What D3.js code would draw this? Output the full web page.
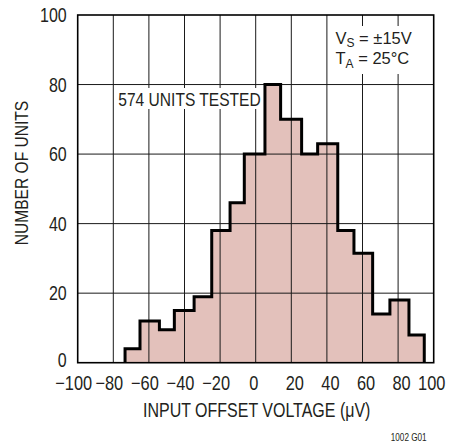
<!DOCTYPE html>
<html>
<head>
<meta charset="utf-8">
<script src="https://cdn.jsdelivr.net/npm/d3@7"></script>
<style>
  html, body { margin: 0; padding: 0; background: #fff; }
  svg { display: block; }
  text { font-family: 'Liberation Sans', Arial, sans-serif; fill: #231f20; }
</style>
</head>
<body>
<script>
// ---- data ----
const binEdges = [-73.4, -65, -54.1, -45.7, -34.6, -24.7, -14.4, -6.4, 5.2, 14, 25.8, 34.8, 46.1, 55.2, 65.7, 75.4, 86.1, 94.7];
const counts   = [4, 12, 9.5, 15, 19, 38, 46, 60, 80, 70, 60, 63, 38, 31.5, 14, 18, 8];
const xTicks = [-100, -80, -60, -40, -20, 0, 20, 40, 60, 80, 100];
const yTicks = [0, 20, 40, 60, 80, 100];
const xTitle = "INPUT OFFSET VOLTAGE (\u03BCV)";
const yTitle = "NUMBER OF UNITS";
const noteText = "574 UNITS TESTED";
const figId = "1002 G01";

const W = 449, H = 444;
const NARROW = 0.82;
const svg = d3.select("body").append("svg").attr("width", W).attr("height", H);

const x = d3.scaleLinear().domain([-100, 100]).range([77.7, 433.7]);
const y = d3.scaleLinear().domain([0, 100]).range([362.7, 15]);

// condensed text helper
function ntext(parent, px, py, size, anchor, rot, sx) {
  const s = sx === undefined ? NARROW : sx;
  return parent.append("text")
    .attr("transform", `translate(${px},${py})${rot ? ` rotate(${rot})` : ""} scale(${s},1)`)
    .attr("font-size", size).attr("text-anchor", anchor || "start");
}

// histogram points (step outline)
const pts = [[binEdges[0], 0]];
counts.forEach((c, i) => { pts.push([binEdges[i], c]); pts.push([binEdges[i + 1], c]); });
pts.push([binEdges[binEdges.length - 1], 0]);
const line = d3.line().x(d => x(d[0])).y(d => y(d[1]));

// fill
svg.append("path").attr("d", line(pts) + "Z").attr("fill", "#e3c1bb").attr("stroke", "none");

// grid
const g = svg.append("g").attr("stroke", "#1a1a1a").attr("stroke-width", 1);
xTicks.slice(1, -1).forEach(t => g.append("line").attr("x1", x(t)).attr("x2", x(t)).attr("y1", y(0)).attr("y2", y(100)));
yTicks.slice(1, -1).forEach(t => g.append("line").attr("x1", x(-100)).attr("x2", x(100)).attr("y1", y(t)).attr("y2", y(t)));

// annotation boxes (white backgrounds over grid)
svg.append("rect").attr("x", 116).attr("y", 88).attr("width", 145).attr("height", 21).attr("fill", "#fff");
svg.append("rect").attr("x", 330).attr("y", 26).attr("width", 90).attr("height", 48).attr("fill", "#fff");

// outline
svg.append("path").attr("d", line(pts)).attr("fill", "none").attr("stroke", "#000")
  .attr("stroke-width", 3).attr("stroke-linejoin", "miter");

// frame
svg.append("rect").attr("x", x(-100)).attr("y", y(100)).attr("width", x(100) - x(-100)).attr("height", y(0) - y(100))
  .attr("fill", "none").attr("stroke", "#000").attr("stroke-width", 1.6);

// y tick labels
yTicks.forEach(d => ntext(svg, x(-100) - 11, y(d) - (d === 0 ? 3 : 0), 19.5, "end").attr("dy", "0.36em").text(d));

// x tick labels
const fmt = d => (d < 0 ? "\u2212" + Math.abs(d) : String(d));
xTicks.forEach(d => ntext(svg, x(d) + (d < 0 ? -4 : (d > 0 && d < 100 ? 3.5 : -2)), y(0) + 27, 20, "middle").text(fmt(d)));

// axis titles
ntext(svg, x(0) + 1, 416.5, 19.5, "middle").text(xTitle);
ntext(svg, 27.5, 173, 19, "middle", -90).text(yTitle);

// note
ntext(svg, 118.3, 106, 19, "start").text(noteText);

// conditions
const c1 = ntext(svg, 335.5, 43.5, 16.5, "start", 0, 1);
c1.append("tspan").text("V");
c1.append("tspan").attr("font-size", 12).attr("dy", 3.5).text("S");
c1.append("tspan").attr("dy", -3.5).text(" = \u00B115V");
const c2 = ntext(svg, 335.5, 64.3, 16.5, "start", 0, 1);
c2.append("tspan").text("T");
c2.append("tspan").attr("font-size", 12).attr("dy", 3.5).text("A");
c2.append("tspan").attr("dy", -3.5).text(" = 25\u00B0C");

// figure id
ntext(svg, 408.7, 441, 10, "middle").text(figId);
</script>
</body>
</html>
